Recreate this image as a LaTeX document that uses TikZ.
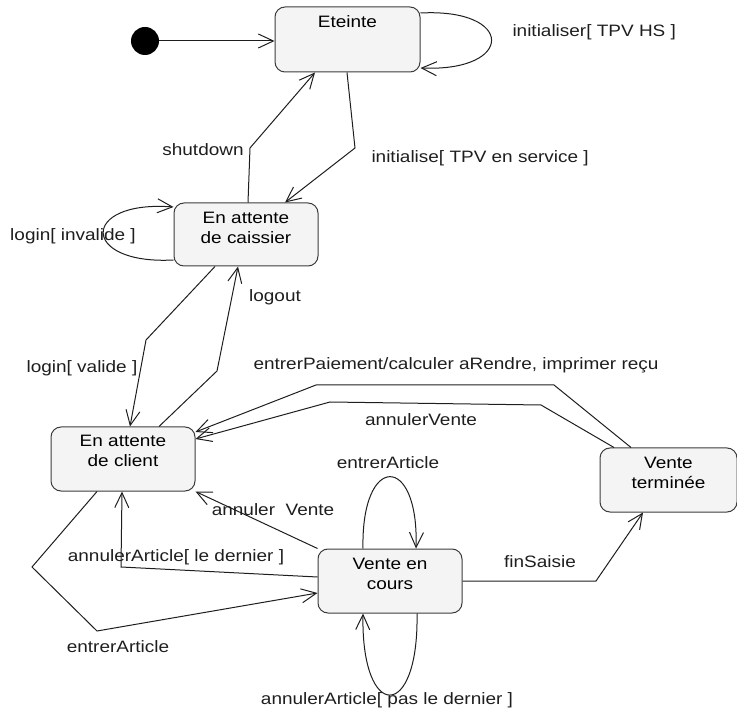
\documentclass[tikz,border=0pt]{standalone}
\usepackage{fontspec}
\setmainfont[FakeStretch=1.15]{Liberation Sans}
\usetikzlibrary{arrows.meta}
\definecolor{StateFill}{RGB}{244, 244, 244}
\definecolor{StateLine}{RGB}{60, 60, 60}
\definecolor{EdgeLine}{RGB}{30, 30, 30}

\begin{document}
\begin{tikzpicture}[
    x=1pt, y=-1pt,
    state/.style={draw=StateLine, fill=StateFill, rectangle, rounded corners=10pt, line width=1pt, inner sep=0pt, minimum width=144pt, minimum height=64pt},
    statetext/.style={align=center, font=\fontsize{16.5}{20}\selectfont, inner sep=0pt},
    lbl/.style={font=\fontsize{16.5}{20}\selectfont, inner sep=0pt},
    arrow/.style={-{Straight Barb[length=15pt, width=14pt]}, line width=1pt, EdgeLine}
  ]
  \useasboundingbox (0,0) rectangle (737,711);

  % Nodes
  \node [circle, fill=black, inner sep=0pt, minimum size=28pt] (init) at (145,41) {};
  \node [state, minimum width=145pt, minimum height=65pt, label={[statetext, name=eteintetxt, yshift=17.5pt]center:Eteinte}] (eteinte) at (347.5,39.5) {};
  \node [state, minimum height=63pt, label={[statetext, name=caissiertxt, yshift=6.5pt]center:{En attente\\de caissier}}] (caissier) at (246,234.5) {};
  \node [state, label={[statetext, name=clienttxt, yshift=8pt]center:{En attente\\de client}}] (client) at (123,459) {};
  \node [state, label={[statetext, name=encourstxt, yshift=7pt]center:{Vente en\\cours}}] (encours) at (390,581) {};
  \node [state, minimum width=137pt, label={[statetext, name=terminetxt, yshift=7.5pt]center:{Vente\\terminée}}] (terminee) at (668.5,480) {};

  % Connections
  \draw [arrow] (init) -- (init -| eteinte.west);
  \draw [arrow] ([yshift=26.5pt]eteinte.east) .. controls (515,8) and (515,72) .. ([yshift=-28.5pt]eteinte.east)
    node [lbl, anchor=west] at (512,32) {initialiser[ TPV HS ]};
  \draw [arrow] ([xshift=-0.5pt]eteinte.south) -- (355,148) -- ([xshift=39pt]caissier.north)
    node [lbl, anchor=west] at (371,158) {initialise[ TPV en service ]};
  \draw [arrow] ([xshift=2pt]caissier.north) -- (250,148) -- ([xshift=-32.5pt]eteinte.south)
    node [lbl] at (203,150) {shutdown};
  \draw [arrow] ([yshift=-25.5pt]caissier.west) .. controls (80,265) and (80,200) .. ([yshift=27.5pt]caissier.west)
    node [lbl] at (73,236) {login[ invalide ]};
  \draw [arrow] ([xshift=-31pt]caissier.south) -- (146,340) -- ([xshift=7pt]client.north)
    node [lbl] at (82,368) {login[ valide ]};
  \draw [arrow] ([xshift=36pt]client.north) -- (217,371) -- ([xshift=-8pt]caissier.south)
    node [lbl] at (275,297) {logout};

  % Back to client
  \draw [arrow] ([xshift=-37.5pt]terminee.north) -- (554,385) -- (316,385) -- ([yshift=27pt]client.east)
    node [lbl] at (456,365) {entrerPaiement/calculer aRendre, imprimer reçu};
  \draw [arrow] ([xshift=-54.5pt]terminee.north) -- (541,405) -- (330,402) -- ([yshift=20pt]client.east)
    node [lbl] at (421,420) {annulerVente};
  \draw [arrow] (encours.north west) -- (client.south east)
    node [lbl] at (273,510) {annuler\ \ Vente};
  \draw [arrow] ([yshift=4pt]encours.west) -- (121,567) -- ([xshift=-1pt]client.south)
    node [lbl] at (176,557) {annulerArticle[ le dernier ]};
  \draw [arrow] ([xshift=-26pt]client.south) -- (32,567) -- (97,631) -- ([yshift=-12pt]encours.west)
    node [lbl] at (118,647) {entrerArticle};

  % Sale in progress
  \draw [arrow] (encours.east) -- (596,581) -- ([xshift=-25.5pt]terminee.south)
    node [lbl] at (540,562) {finSaisie};
  \draw [arrow] ([xshift=-27pt]encours.north) .. controls (361,453) and (419,453) .. ([xshift=26pt]encours.north)
    node [lbl] at (388,463) {entrerArticle};
  \draw [arrow] ([xshift=27pt]encours.south) .. controls (419,722) and (361,722) .. ([xshift=-27pt]encours.south)
    node [lbl] at (387,700) {annulerArticle[ pas le dernier ]};
\end{tikzpicture}
\end{document}
